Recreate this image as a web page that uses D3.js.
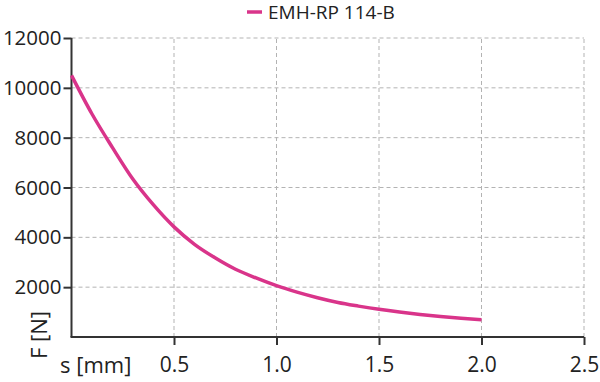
<!DOCTYPE html>
<html><head><meta charset="utf-8">
<script src="https://cdn.jsdelivr.net/npm/d3@7"></script>
<style>body{margin:0;background:#fff}svg{display:block}</style>
</head><body><svg id="c" width="600" height="382"></svg>
<script>
const seriesName = "EMH-RP 114-B";
const sValues = [0, 0.1, 0.2, 0.3, 0.4, 0.5, 0.6, 0.7, 0.8, 0.9, 1.0, 1.1, 1.2, 1.3, 1.4, 1.5, 1.6, 1.7, 1.8, 1.9, 2.0];
const fValues = [10500, 8950, 7600, 6330, 5300, 4420, 3720, 3180, 2720, 2370, 2060, 1800, 1575, 1385, 1240, 1110, 1000, 905, 825, 755, 690];
const xTicks = [0.5, 1.0, 1.5, 2.0, 2.5];
const yTicks = [2000, 4000, 6000, 8000, 10000, 12000];

const svg = d3.select("#c");
const font = "'Open Sans', sans-serif";
const x = d3.scaleLinear().domain([0, 2.5]).range([71.5, 584]);
const y = d3.scaleLinear().domain([0, 12000]).range([337, 38]);

// grid
const g = svg.append("g");
g.selectAll(".gx").data(xTicks).enter().append("line")
  .attr("x1", d => x(d)).attr("x2", d => x(d)).attr("y1", y(0)).attr("y2", y(12000))
  .attr("stroke", "#b3b3b3").attr("stroke-width", 1).attr("stroke-dasharray", "4,3");
g.selectAll(".gy").data(yTicks).enter().append("line")
  .attr("x1", x(0)).attr("x2", x(2.5)).attr("y1", d => y(d)).attr("y2", d => y(d))
  .attr("stroke", "#b3b3b3").attr("stroke-width", 1).attr("stroke-dasharray", "4,3");

// axes
const xa = svg.append("g").attr("transform", `translate(0,${y(0)})`)
  .call(d3.axisBottom(x).tickValues(xTicks).tickFormat(d3.format(".1f")).tickSizeOuter(0).tickSize(8).tickPadding(12));
const ya = svg.append("g").attr("transform", `translate(${x(0)},0)`)
  .call(d3.axisLeft(y).tickValues(yTicks).tickFormat(d => d).tickSizeOuter(0).tickSize(8).tickPadding(2));
[xa, ya].forEach(a => {
  a.select(".domain").attr("stroke", "#333").attr("stroke-width", 2);
  a.selectAll(".tick line").attr("stroke", "#333").attr("stroke-width", 2);
  a.selectAll(".tick text").attr("fill", "#222").style("font-family", font).style("font-size", "21px");
});
ya.selectAll(".tick text").style("font-size", "20.5px");
xa.select(".domain").attr("d", `M${x(0)-1},0H${x(2.5)}`);
ya.select(".domain").attr("d", `M0,${y(0)}V${y(12000)}`);

// axis labels
svg.append("text").attr("x", 60).attr("y", 373).text("s [mm]")
  .attr("fill", "#222").style("font-family", font).style("font-size", "22px");
svg.append("text").attr("transform", "translate(47,335) rotate(-90)").attr("text-anchor", "middle")
  .text("F [N]").attr("fill", "#222").style("font-family", font).style("font-size", "22px");

// line
const line = d3.line().x(d => x(d[0])).y(d => y(d[1])).curve(d3.curveMonotoneX);
svg.append("path").datum(sValues.map((s, i) => [s, fValues[i]]))
  .attr("d", line).attr("fill", "none").attr("stroke", "#d9348a").attr("stroke-width", 3.5);

// legend
svg.append("line").attr("x1", 247).attr("x2", 262).attr("y1", 12).attr("y2", 12)
  .attr("stroke", "#d9348a").attr("stroke-width", 3.5);
svg.append("text").attr("x", 268).attr("y", 19).text(seriesName)
  .attr("fill", "#222").style("font-family", font).style("font-size", "19px");
</script></body></html>
